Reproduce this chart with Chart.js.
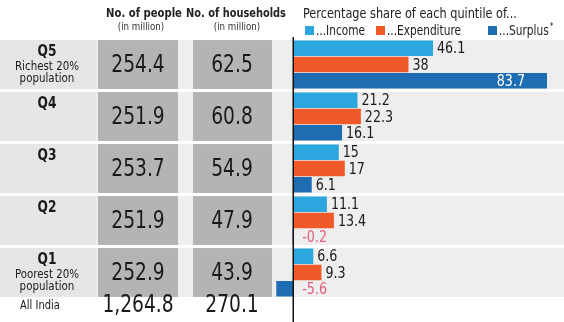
<!DOCTYPE html>
<html>
<head>
<meta charset="utf-8">
<script src="https://cdn.jsdelivr.net/npm/chart.js@4.4.1/dist/chart.umd.min.js"></script>
<style>
  html, body { margin: 0; padding: 0; background: #fff; }
  #wrap { width: 564px; height: 322px; }
</style>
</head>
<body>
<div id="wrap"><canvas id="quintileChart" width="564" height="322"></canvas></div>
<script>
const quintiles = ['Q5', 'Q4', 'Q3', 'Q2', 'Q1'];
const subLabels = [['Richest 20%', 'population'], [], [], [], ['Poorest 20%', 'population']];
const people = ['254.4', '251.9', '253.7', '251.9', '252.9'];
const households = ['62.5', '60.8', '54.9', '47.9', '43.9'];
const totalRow = ['All India', '1,264.8', '270.1'];

const seriesNames = ['...Income', '...Expenditure', '...Surplus'];
const income = [46.1, 21.2, 15, 11.1, 6.6];
const expenditure = [38, 22.3, 17, 13.4, 9.3];
const surplus = [83.7, 16.1, 6.1, -0.2, -5.6];

const colors = ['#2ba6de', '#ef5a28', '#1e6db3'];
const FONT = "'DejaVu Sans Condensed', 'DejaVu Sans', sans-serif";

// the reference uses a narrow face, so squeeze text horizontally
function drawText(ctx, text, x, y, align, sx) {
    ctx.save();
    ctx.translate(x, y);
    ctx.scale(sx, 1);
    ctx.textAlign = align;
    ctx.fillText(text, 0, 0);
    ctx.restore();
}

// table on the left, row bands, header, legend and axis line
const tablePlugin = {
    id: 'tablePlugin',
    beforeDatasetsDraw(chart) {
        const ctx = chart.ctx;
        const y = chart.scales.y;
        const pitch = y.getPixelForValue(1) - y.getPixelForValue(0);
        const half = pitch * 0.47;
        ctx.save();
        ctx.textBaseline = 'middle';

        quintiles.forEach((q, i) => {
            const cy = y.getPixelForValue(i);
            const top = cy - half;
            const h = half * 2;
            ctx.fillStyle = '#eeeeee';
            ctx.fillRect(0, top, chart.width, h);
            ctx.fillStyle = '#e6e6e6';
            ctx.fillRect(0, top, 96, h);
            ctx.fillStyle = '#b4b4b4';
            ctx.fillRect(98, top, 80, h);
            ctx.fillRect(193, top, 79, h);

            ctx.fillStyle = '#1a1a1a';
            ctx.font = `bold 16px ${FONT}`;
            drawText(ctx, q, 47, top + 12, 'center', 0.85);
            ctx.font = `13px ${FONT}`;
            subLabels[i].forEach((s, j) => drawText(ctx, s, 47, top + 27 + j * 12, 'center', 0.88));

            ctx.font = `25px ${FONT}`;
            drawText(ctx, people[i], 138, cy + 1, 'center', 0.83);
            drawText(ctx, households[i], 232, cy + 1, 'center', 0.83);
        });

        // All India row
        const last = y.getPixelForValue(quintiles.length - 1) + half;
        const ty = last + 9;
        ctx.fillStyle = '#1a1a1a';
        ctx.font = `13px ${FONT}`;
        drawText(ctx, totalRow[0], 40, ty, 'center', 0.85);
        ctx.font = `25px ${FONT}`;
        drawText(ctx, totalRow[1], 138, ty, 'center', 0.83);
        drawText(ctx, totalRow[2], 232, ty, 'center', 0.83);

        // headers
        ctx.font = `bold 13px ${FONT}`;
        ctx.fillStyle = '#222';
        drawText(ctx, 'No. of people', 144, 14, 'center', 0.86);
        drawText(ctx, 'No. of households', 236, 14, 'center', 0.84);
        ctx.font = `11px ${FONT}`;
        ctx.fillStyle = '#333';
        drawText(ctx, '(in million)', 141, 27, 'center', 0.88);
        drawText(ctx, '(in million)', 237, 27, 'center', 0.88);

        // title + legend
        ctx.fillStyle = '#222';
        ctx.font = `13.5px ${FONT}`;
        drawText(ctx, 'Percentage share of each quintile of...', 303, 14, 'left', 0.93);
        const legendX = [305, 376, 488];
        seriesNames.forEach((name, k) => {
            ctx.fillStyle = colors[k];
            ctx.fillRect(legendX[k], 26, 9, 9);
            ctx.fillStyle = '#222';
            ctx.font = `13.5px ${FONT}`;
            drawText(ctx, name, legendX[k] + 11, 31, 'left', 0.87);
            if (k === 2) {
                const w = ctx.measureText(name).width * 0.87;
                ctx.font = `8px ${FONT}`;
                drawText(ctx, '*', legendX[k] + 12 + w, 27, 'left', 1);
            }
        });
        ctx.restore();
    },
    afterDatasetsDraw(chart) {
        const ctx = chart.ctx;
        const x = chart.scales.x;
        const x0 = x.getPixelForValue(0);
        ctx.save();
        // value labels
        ctx.font = `16px ${FONT}`;
        ctx.textBaseline = 'middle';
        chart.data.datasets.forEach((ds, d) => {
            chart.getDatasetMeta(d).data.forEach((bar, i) => {
                const v = ds.data[i];
                const yy = bar.y + 1;
                if (v < 0) {
                    ctx.fillStyle = '#e0607e';
                    drawText(ctx, String(v), x0 + 9, yy, 'left', 0.88);
                } else if (v > 70) {
                    ctx.fillStyle = '#ffffff';
                    drawText(ctx, String(v), bar.x - 22, yy, 'right', 0.88);
                } else {
                    ctx.fillStyle = '#1a1a1a';
                    drawText(ctx, String(v), bar.x + 4, yy, 'left', 0.88);
                }
            });
        });
        // zero axis line
        ctx.strokeStyle = '#111';
        ctx.lineWidth = 1.5;
        ctx.beginPath();
        ctx.moveTo(x0, 37);
        ctx.lineTo(x0, chart.height);
        ctx.stroke();
        ctx.restore();
    }
};

new Chart(document.getElementById('quintileChart'), {
    type: 'bar',
    data: {
        labels: quintiles,
        datasets: [
            { label: seriesNames[0], data: income, backgroundColor: colors[0] },
            { label: seriesNames[1], data: expenditure, backgroundColor: colors[1] },
            { label: seriesNames[2], data: surplus, backgroundColor: colors[2] }
        ]
    },
    options: {
        indexAxis: 'y',
        responsive: false,
        animation: false,
        devicePixelRatio: 1,
        layout: { padding: { left: 269, right: 7, top: 38.5, bottom: 23.5 } },
        datasets: {
            bar: { categoryPercentage: 0.94, barPercentage: 0.96, borderWidth: 0 }
        },
        plugins: {
            legend: { display: false },
            tooltip: { enabled: false }
        },
        scales: {
            x: { display: false, min: -8, max: 87 },
            y: { display: false }
        }
    },
    plugins: [tablePlugin]
});
</script>
</body>
</html>
